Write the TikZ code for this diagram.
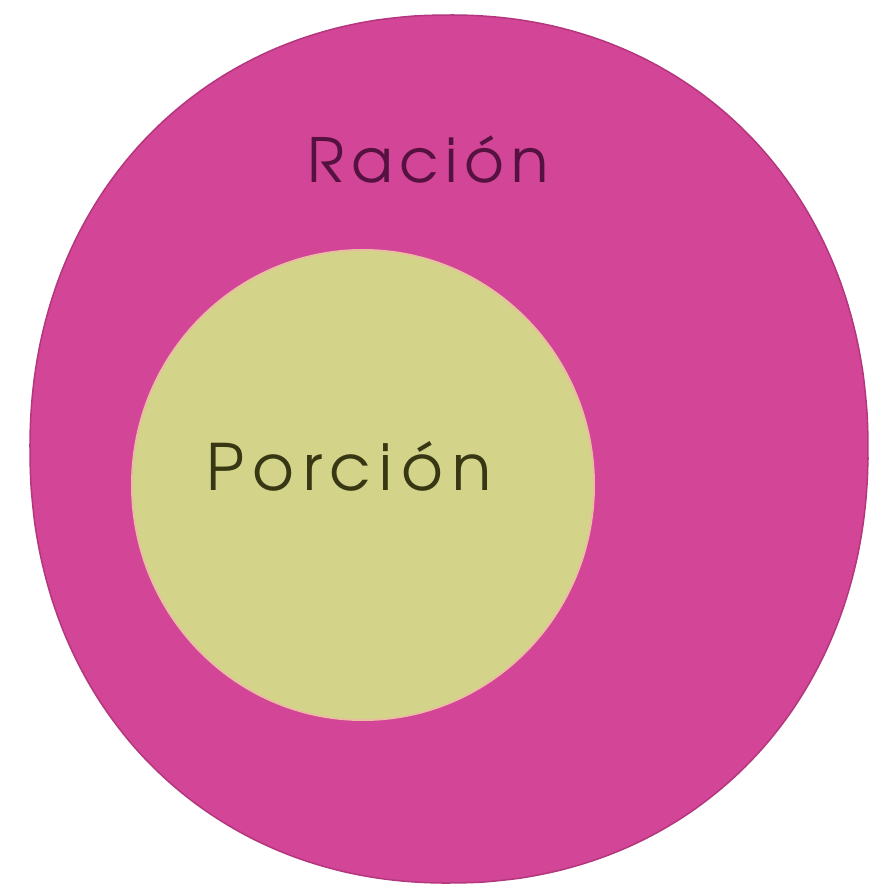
\documentclass[tikz,border=0pt]{standalone}
\usepackage{fontspec}
\newfontfamily\racionfont[LetterSpace=11]{texgyreadventor-regular.otf}
\newfontfamily\porcionfont[LetterSpace=14]{texgyreadventor-regular.otf}
\definecolor{outerfill}{RGB}{211,69,151}
\definecolor{outeredge}{RGB}{180,55,125}
\definecolor{innerfill}{RGB}{211,212,138}
\definecolor{inneredge}{RGB}{232,190,160}
\definecolor{racioncol}{RGB}{85,18,65}
\definecolor{porcioncol}{RGB}{55,55,20}
\tikzset{
  label text/.style={anchor=base, inner sep=0pt},
}
\begin{document}
\begin{tikzpicture}[x=1pt,y=-1pt]
\useasboundingbox (0,0) rectangle (872,886);
\fill[white] (0,0) rectangle (872,886);
% outer blob (nearly elliptic)
\filldraw[fill=outerfill, draw=outeredge, line width=1.5pt]
  plot[domain=1:361, samples=145, smooth cycle]
  ({449+419*sign(cos(\x))*pow(abs(cos(\x)),0.95)},
   {449+434*sign(sin(\x))*pow(abs(sin(\x)),0.95)});
% inner circle
\filldraw[fill=innerfill, draw=inneredge, line width=2pt]
  (363,485) ellipse [x radius=231, y radius=235];
\node[label text, text=racioncol, font=\racionfont\fontsize{61}{70}\selectfont] (racion) at (428,182) {Ración};
\node[label text, text=porcioncol, font=\porcionfont\fontsize{64}{72}\selectfont] (porcion) at (349,490) {Porción};
\end{tikzpicture}
\end{document}
